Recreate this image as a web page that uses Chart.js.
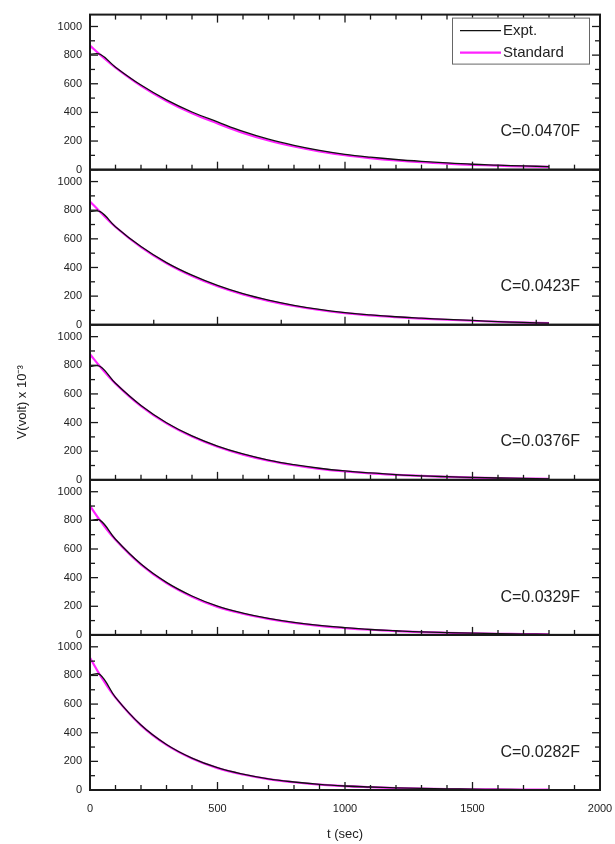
<!DOCTYPE html>
<html>
<head>
<meta charset="utf-8">
<script src="https://cdn.jsdelivr.net/npm/chart.js@4.4.1/dist/chart.umd.min.js"></script>
<style>
  html, body { margin: 0; padding: 0; background: #fff; }
</style>
</head>
<body>
<canvas id="decayChart" width="615" height="844"></canvas>
<script>
// time axis (sec)
const timeSec = [0, 40, 100, 200, 300, 400, 500, 600, 700, 800, 900, 1000, 1100, 1200, 1300, 1400, 1500, 1600, 1700, 1800];

// capacitor labels, top panel first
const capLabels = ["C=0.0470F", "C=0.0423F", "C=0.0376F", "C=0.0329F", "C=0.0282F"];

// V (volt x 10^-3)
const expt1 = [806, 806, 716, 591, 488, 403, 334, 267, 213, 170, 135, 107, 87, 71, 58, 47, 38, 32, 26, 22];
const std1  = [866, 802, 712, 585, 480, 394, 323, 257, 204, 162, 128, 101, 81, 65, 52, 42, 34, 28, 23, 19];
const expt2 = [790, 790, 685, 546, 434, 346, 275, 217, 172, 136, 107, 85, 69, 56, 46, 37, 30, 22, 16, 12];
const std2  = [861, 788, 683, 542, 429, 340, 269, 212, 167, 131, 103, 81, 65, 53, 43, 35, 28, 21, 15, 11];
const expt3 = [792, 792, 674, 519, 399, 307, 236, 181, 138, 106, 81, 62, 48, 37, 28, 22, 17, 13, 10, 7];
const std3  = [877, 790, 672, 515, 394, 302, 231, 176, 134, 102, 77, 59, 45, 35, 27, 21, 16, 12, 9, 7];
const expt4 = [800, 800, 668, 495, 367, 272, 201, 153, 116, 88, 67, 51, 38, 29, 21, 16, 12, 9, 6, 4];
const std4  = [901, 798, 665, 491, 362, 267, 196, 148, 112, 84, 63, 48, 36, 27, 20, 15, 11, 8, 6, 4];
const expt5 = [805, 805, 647, 454, 318, 223, 156, 111, 78, 56, 39, 28, 21, 15, 11, 8, 6, 4, 3, 2];
const std5  = [923, 801, 645, 451, 315, 220, 153, 108, 76, 54, 38, 27, 20, 14, 10, 7, 5, 4, 3, 2];

const exptSets = [expt1, expt2, expt3, expt4, expt5];
const stdSets = [std1, std2, std3, std4, std5];
const panelIds = ["p0", "p1", "p2", "p3", "p4"];

const EXPT_COLOR = "#111111";
const STD_COLOR = "#ff22ff";

Chart.defaults.font.family = "'Liberation Sans', Arial, sans-serif";
Chart.defaults.font.size = 11;
Chart.defaults.color = "#222";

const toPoints = (vals) => vals.map((v, i) => ({ x: timeSec[i], y: v }));
const plainTick = (v) => String(v);

let datasets = [];
panelIds.forEach((id, i) => {
  datasets.push({
    label: "Expt.",
    data: toPoints(exptSets[i]),
    yAxisID: id,
    borderColor: EXPT_COLOR,
    borderWidth: 1.3,
    pointRadius: 0,
    tension: 0.4,
  });
  datasets.push({
    label: "Standard",
    data: toPoints(stdSets[i]),
    yAxisID: id,
    borderColor: STD_COLOR,
    borderWidth: 2.2,
    pointRadius: 0,
    tension: 0.4,
  });
});

// y scales, declared bottom panel first so the top panel is placed first
let scales = {
  x: {
    type: "linear",
    min: 0,
    max: 2000,
    ticks: { stepSize: 500, padding: 12, maxRotation: 0, callback: plainTick },
    grid: { display: false, drawTicks: false },
    border: { display: false },
    title: { display: true, text: "t (sec)", font: { size: 13 }, padding: { top: 0, bottom: 2 } },
    afterFit: (s) => {
      s.height = 54;
      s.paddingLeft = 0;
      s.paddingRight = 0;
    },
  },
};
[...panelIds].reverse().forEach((id) => {
  scales[id] = {
    type: "linear",
    position: "left",
    stack: "panels",
    stackWeight: 1,
    min: 0,
    max: 1083,
    ticks: { stepSize: 200, includeBounds: false, padding: 8, autoSkip: false, callback: plainTick },
    grid: { display: false, drawTicks: false },
    border: { display: false },
    title: {
      display: id === "p2",
      text: "V(volt) x 10\u207B\u00B3",
      font: { size: 13 },
      padding: { top: 15, bottom: 0 },
    },
    afterFit: (s) => { s.width = 90; },
  };
});

function seg(ctx, x1, y1, x2, y2) {
  ctx.beginPath();
  ctx.moveTo(x1, y1);
  ctx.lineTo(x2, y2);
  ctx.stroke();
}

// frames, inward ticks, panel labels and the legend box
const panelPlugin = {
  id: "panelFrames",
  afterDatasetsDraw(chart) {
    const ctx = chart.ctx;
    const xs = chart.scales.x;
    const area = chart.chartArea;
    ctx.save();
    ctx.strokeStyle = "#1a1a1a";
    panelIds.forEach((id, i) => {
      const ys = chart.scales[id];
      const top = ys.top, bot = ys.bottom;
      ctx.lineWidth = 1.3;
      for (let v = 0; v <= 1000; v += 100) {
        const py = ys.getPixelForValue(v);
        const len = v % 200 === 0 ? 8 : 5;
        seg(ctx, area.left, py, area.left + len, py);
        seg(ctx, area.right, py, area.right - len, py);
      }
      const step = i === 1 ? 250 : 100;
      for (let t = 0; t <= 2000; t += step) {
        const px = xs.getPixelForValue(t);
        const len = t % 500 === 0 ? 8 : 5;
        seg(ctx, px, bot, px, bot - len);
        if (i === 0) seg(ctx, px, top, px, top + len);
      }
      ctx.lineWidth = 2;
      ctx.strokeRect(area.left, top, area.right - area.left, bot - top);

      ctx.fillStyle = "#222";
      ctx.font = "16px 'Liberation Sans', Arial, sans-serif";
      ctx.textAlign = "right";
      ctx.textBaseline = "middle";
      ctx.fillText(capLabels[i], area.right - 20, ys.getPixelForValue(264));
    });

    // legend
    const lw = 137, lh = 46;
    const lx = area.right - 11 - lw, ly = area.top + 3;
    ctx.fillStyle = "#fff";
    ctx.fillRect(lx, ly, lw, lh);
    ctx.strokeStyle = "#666";
    ctx.lineWidth = 1;
    ctx.strokeRect(lx + 0.5, ly + 0.5, lw, lh);
    const items = [datasets[0], datasets[1]];
    items.forEach((d, k) => {
      const yy = ly + 13 + k * 22;
      ctx.strokeStyle = d.borderColor;
      ctx.lineWidth = d.borderWidth;
      seg(ctx, lx + 8, yy, lx + 49, yy);
      ctx.fillStyle = "#222";
      ctx.font = "15px 'Liberation Sans', Arial, sans-serif";
      ctx.textAlign = "left";
      ctx.textBaseline = "middle";
      ctx.fillText(d.label, lx + 51, yy);
    });
    ctx.restore();
  },
};

const decayChart = new Chart(document.getElementById("decayChart"), {
  type: "line",
  data: { datasets: datasets },
  options: {
    responsive: false,
    animation: false,
    devicePixelRatio: 1,
    layout: { padding: { top: 10, right: 15, left: 0, bottom: 0 } },
    plugins: { legend: { display: false }, tooltip: { enabled: false } },
    scales: scales,
  },
  plugins: [panelPlugin],
});
</script>
</body>
</html>
